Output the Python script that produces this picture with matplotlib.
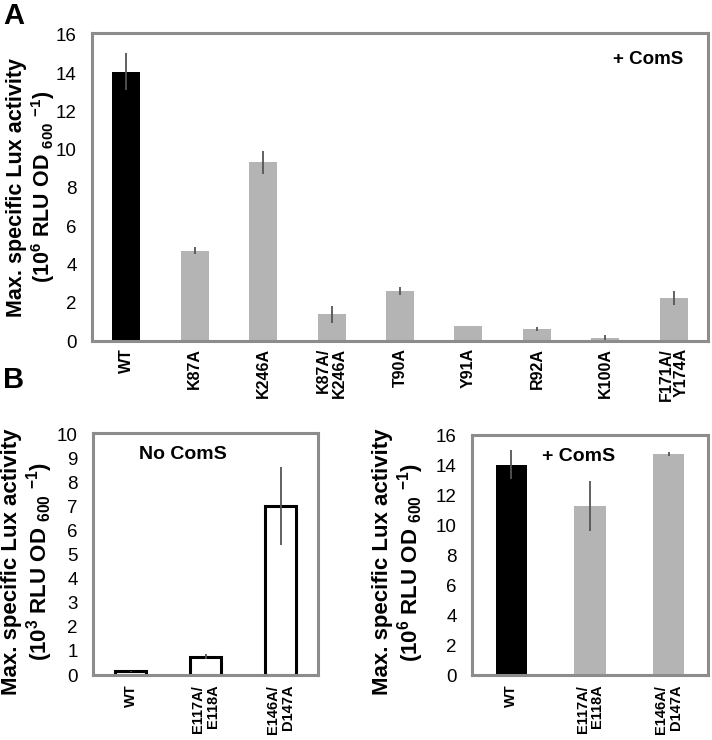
#
# bar charts of max. specific lux activity for comr mutants (panels A, B)
#

import numpy as np
import matplotlib.pyplot as plt

plt.rcParams["font.family"] = ["Liberation Sans", "DejaVu Sans"]
plt.rcParams["mathtext.default"] = "regular"


# panel A, + ComS
a_labels = [ "WT", "K87A", "K246A", "K87A/\nK246A", "T90A", "Y91A", "R92A", "K100A", "F171A/\nY174A" ]
a_values = [ 14.08, 4.73, 9.35, 1.40, 2.63, 0.78, 0.62, 0.16, 2.25 ]
a_errors = [ 0.98, 0.17, 0.60, 0.44, 0.20, 0.02, 0.10, 0.13, 0.35 ]

# panel B, no ComS (10^3)
b1_labels = [ "WT", "E117A/\nE118A", "E146A/\nD147A" ]
b1_values = [ 0.15, 0.76, 7.04 ]
b1_errors = [ 0.02, 0.10, 1.61 ]

# panel B, + ComS (10^6)
b2_labels = [ "WT", "E117A/\nE118A", "E146A/\nD147A" ]
b2_values = [ 14.03, 11.27, 14.75 ]
b2_errors = [ 0.98, 1.67, 0.15 ]


frame_col = "#8c8c8c"
grey_bar = "#b4b4b4"
err_col = "#555555"

ylabel_6 = "Max. specific Lux activity\n(10$^{6}$ RLU OD $_{600}$ $^{-1}$)"
ylabel_3 = "Max. specific Lux activity\n(10$^{3}$ RLU OD $_{600}$ $^{-1}$)"


def style_axes(ax, labels, ymax, ystep, xpad, xsize):
	for sp in ax.spines.values():
		sp.set_color(frame_col)
		sp.set_linewidth(2.2)
	ax.set_xlim(-0.5, len(labels) - 0.5)
	ax.set_ylim(0, ymax)
	ax.set_yticks(np.arange(0, int(ymax) + 1, ystep))
	ax.tick_params(axis="y", length=0, pad=11, labelsize=13.5)
	ax.tick_params(axis="x", length=0, pad=xpad)
	ax.set_xticks(range(len(labels)))
	ax.set_xticklabels(labels, rotation=90, fontweight="bold", fontsize=xsize,
		ha="center", va="top", multialignment="right", linespacing=1.05)


fig = plt.figure(figsize=(7.12, 7.40), dpi=100)

# A
axA = fig.add_axes([ 92/712, 1 - 341/740, 616/712, 308/740 ])
x = np.arange(len(a_labels))
colors = [ "black" ] + [ grey_bar ] * (len(a_labels) - 1)
axA.bar(x, a_values, width=0.41, color=colors, zorder=2)
axA.errorbar(x, a_values, yerr=a_errors, fmt="none", ecolor=err_col, elinewidth=1.3, capsize=0, zorder=3)
style_axes(axA, a_labels, 16.1, 2, 5, 11.5)
axA.set_ylabel(ylabel_6, fontweight="bold", fontsize=15.5, linespacing=1.1)
axA.yaxis.set_label_coords(-0.057, 0.5)
axA.text(0.96, 0.915, "+ ComS", transform=axA.transAxes, ha="right", va="center",
	fontweight="bold", fontsize=13.5)

# B left, no ComS
axB1 = fig.add_axes([ 93/712, 1 - 675/740, 225/712, 242/740 ])
x = np.arange(len(b1_labels))
axB1.bar(x, b1_values, width=0.41, color="white", edgecolor="black", linewidth=2.2, zorder=2)
axB1.errorbar(x, b1_values, yerr=b1_errors, fmt="none", ecolor=err_col, elinewidth=1.3, capsize=0, zorder=3)
style_axes(axB1, b1_labels, 10.08, 1, 7, 10.5)
axB1.set_ylabel(ylabel_3, fontweight="bold", fontsize=16, linespacing=1.1)
axB1.yaxis.set_label_coords(-0.17, 0.47)
axB1.text(0.4, 0.91, "No ComS", transform=axB1.transAxes, ha="center", va="center",
	fontweight="bold", fontsize=14)

# B right, + ComS
axB2 = fig.add_axes([ 472/712, 1 - 675/740, 236/712, 240/740 ])
x = np.arange(len(b2_labels))
colors = [ "black" ] + [ grey_bar ] * (len(b2_labels) - 1)
axB2.bar(x, b2_values, width=0.4, color=colors, zorder=2)
axB2.errorbar(x, b2_values, yerr=b2_errors, fmt="none", ecolor=err_col, elinewidth=1.3, capsize=0, zorder=3)
style_axes(axB2, b2_labels, 16.0, 2, 7, 10.5)
axB2.set_ylabel(ylabel_6, fontweight="bold", fontsize=16, linespacing=1.1)
axB2.yaxis.set_label_coords(-0.195, 0.47)
axB2.text(0.45, 0.91, "+ ComS", transform=axB2.transAxes, ha="center", va="center",
	fontweight="bold", fontsize=14)

# panel letters
fig.text(3/712, 1 - 2/740, "A", fontweight="bold", fontsize=21, ha="left", va="top")
fig.text(3/712, 1 - 366/740, "B", fontweight="bold", fontsize=21, ha="left", va="top")

fig.savefig("out.png", dpi=100)
